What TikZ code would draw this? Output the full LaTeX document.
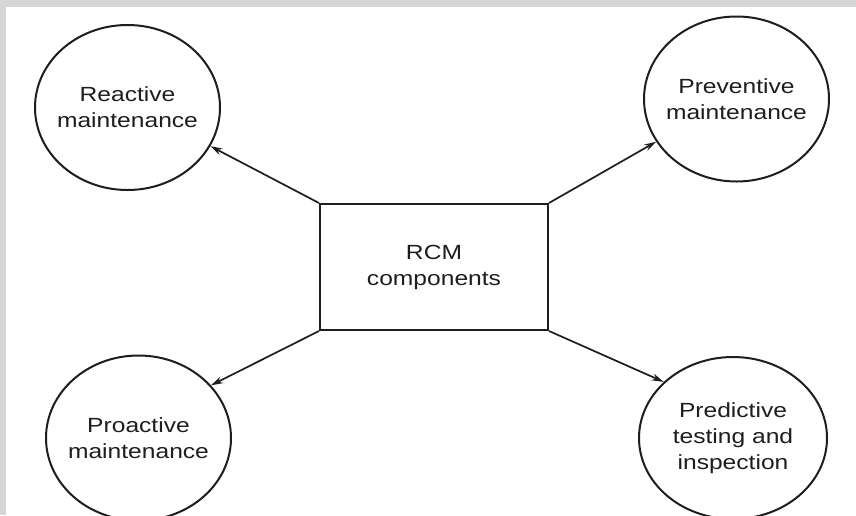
\documentclass[tikz,border=0pt]{standalone}
\usepackage{fontspec}
\setmainfont[FakeStretch=1.2]{Liberation Sans}
\usetikzlibrary{shapes.geometric,arrows.meta}
\definecolor{framegray}{HTML}{D6D6D6}
\definecolor{inkgray}{HTML}{1E1E1E}
\tikzset{
  comp/.style={ellipse,draw=inkgray,line width=2pt,inner sep=-30pt,
    minimum width=185pt,minimum height=165pt,align=center,
    font=\fontsize{20.5pt}{26pt}\selectfont,text=inkgray},
  core/.style={rectangle,draw=inkgray,line width=2pt,
    minimum width=228pt,minimum height=126pt,align=center,
    font=\fontsize{20.5pt}{26pt}\selectfont,text=inkgray},
  link/.style={draw=inkgray,line width=1.7pt,-{Stealth[length=12pt,width=7pt]}}
}
\begin{document}
\begin{tikzpicture}[x=1pt,y=-1pt]
\useasboundingbox (0,0) rectangle (856,515);
\fill[white] (0,0) rectangle (856,515);
\fill[framegray] (0,0) rectangle (856,7);
\fill[framegray] (0,0) rectangle (6,515);
\node[core] (rcm) at (434,267) {RCM\\components};
\node[comp] (reac) at (127.5,107.5) {Reactive\\maintenance};
\node[comp] (prev) at (736.5,99) {Preventive\\maintenance};
\node[comp] (pro) at (138.5,438) {Proactive\\maintenance};
\node[comp,minimum width=188pt,minimum height=162pt] (pred) at (733,438) {Predictive\\testing and\\inspection};
\draw[link] (rcm.north west) -- (reac.-25);
\draw[link] (rcm.north east) -- (prev.208);
\draw[link] (rcm.south west) -- (pro.36);
\draw[link] (rcm.south east) -- (pred.141);
\end{tikzpicture}
\end{document}
